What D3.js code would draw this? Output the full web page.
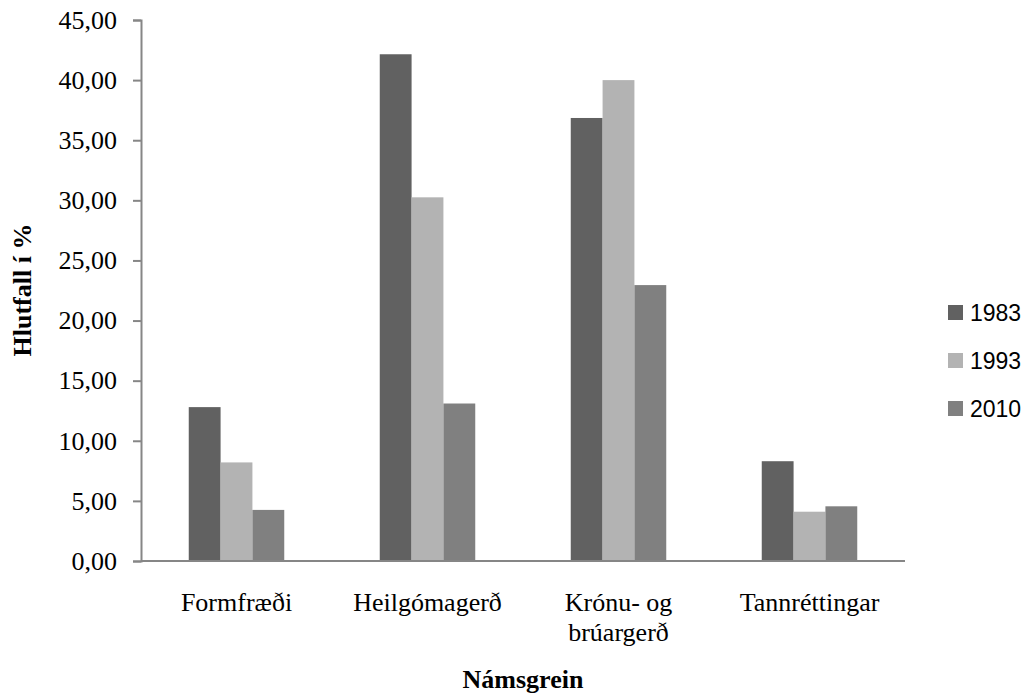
<!DOCTYPE html>
<html>
<head>
<meta charset="utf-8">
<script src="https://cdn.jsdelivr.net/npm/d3@7"></script>
<style>
  body { margin: 0; background: #fff; }
  svg { display: block; }
</style>
</head>
<body>
<div id="root"></div>
<script>
// chart values
const categories = ['Formfræði', 'Heilgómagerð', 'Krónu- og|brúargerð', 'Tannréttingar'];
const years = ['1983', '1993', '2010'];
const values1983 = [12.8, 42.15, 36.85, 8.3];
const values1993 = [8.2, 30.25, 40.0, 4.1];
const values2010 = [4.25, 13.1, 22.95, 4.55];
const yTicks = [0, 5, 10, 15, 20, 25, 30, 35, 40, 45];
const colors = ['#616161', '#b3b3b3', '#808080'];

const series = [values1983, values1993, values2010];

const width = 1024;
const height = 695;
const plot = { left: 141, right: 905, top: 20, bottom: 561 };

const svg = d3.select('#root')
  .append('svg')
  .attr('width', width)
  .attr('height', height);

const x = d3.scaleBand()
  .domain(categories)
  .range([plot.left, plot.right])
  .paddingInner(0.5)
  .paddingOuter(0.25);

const xInner = d3.scaleBand()
  .domain(years)
  .range([0, x.bandwidth()]);

const y = d3.scaleLinear()
  .domain([0, 45])
  .range([plot.bottom, plot.top]);

// bars
const groups = svg.append('g')
  .selectAll('g')
  .data(categories)
  .join('g')
  .attr('transform', d => `translate(${x(d)},0)`);

groups.selectAll('rect')
  .data((d, i) => years.map((yr, j) => ({ yr, v: series[j][i], c: colors[j] })))
  .join('rect')
  .attr('x', d => xInner(d.yr))
  .attr('y', d => y(d.v))
  .attr('width', xInner.bandwidth())
  .attr('height', d => y(0) - y(d.v))
  .attr('fill', d => d.c);

// y axis
const yAxis = svg.append('g')
  .attr('transform', `translate(${plot.left},0)`)
  .call(d3.axisLeft(y)
    .tickValues(yTicks)
    .tickSize(8)
    .tickPadding(16)
    .tickFormat(d => d3.format('.2f')(d).replace('.', ',')));

yAxis.select('.domain').attr('stroke', '#868686').attr('stroke-width', 2);
yAxis.selectAll('.tick line').attr('stroke', '#868686').attr('stroke-width', 2);
yAxis.selectAll('.tick text')
  .attr('fill', '#000')
  .attr('font-family', 'Liberation Serif, Times New Roman, serif')
  .attr('font-size', 26);

// x axis line
svg.append('line')
  .attr('x1', plot.left)
  .attr('x2', plot.right)
  .attr('y1', plot.bottom)
  .attr('y2', plot.bottom)
  .attr('stroke', '#868686')
  .attr('stroke-width', 2);

// category labels
svg.append('g')
  .selectAll('text')
  .data(categories)
  .join('text')
  .attr('x', d => x(d) + x.bandwidth() / 2)
  .attr('y', 611)
  .attr('text-anchor', 'middle')
  .attr('font-family', 'Liberation Serif, Times New Roman, serif')
  .attr('font-size', 26)
  .each(function (d) {
    const lines = d.split('|');
    d3.select(this).selectAll('tspan')
      .data(lines)
      .join('tspan')
      .attr('x', x(d) + x.bandwidth() / 2)
      .attr('dy', (l, i) => i === 0 ? 0 : 30)
      .text(l => l);
  });

// axis titles
svg.append('text')
  .attr('x', (plot.left + plot.right) / 2)
  .attr('y', 688)
  .attr('text-anchor', 'middle')
  .attr('font-family', 'Liberation Serif, Times New Roman, serif')
  .attr('font-weight', 'bold')
  .attr('font-size', 26)
  .text('Námsgrein');

svg.append('text')
  .attr('transform', `translate(31,290) rotate(-90)`)
  .attr('text-anchor', 'middle')
  .attr('font-family', 'Liberation Serif, Times New Roman, serif')
  .attr('font-weight', 'bold')
  .attr('font-size', 26)
  .text('Hlutfall í %');

// legend
const legend = svg.append('g')
  .selectAll('g')
  .data(years)
  .join('g')
  .attr('transform', (d, i) => `translate(948,${305 + i * 48})`);

legend.append('rect')
  .attr('width', 15)
  .attr('height', 15)
  .attr('fill', (d, i) => colors[i]);

legend.append('text')
  .attr('x', 22)
  .attr('y', 7.5)
  .attr('dy', '0.35em')
  .attr('font-family', 'Liberation Sans, Arial, sans-serif')
  .attr('font-size', 23)
  .text(d => d);
</script>
</body>
</html>
